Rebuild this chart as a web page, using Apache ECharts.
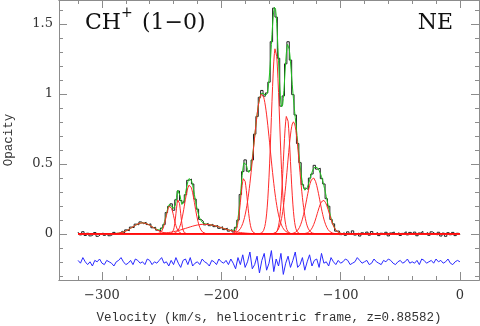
<!DOCTYPE html>
<html>
<head>
<meta charset="utf-8">
<script src="https://cdn.jsdelivr.net/npm/echarts@6/dist/echarts.min.js"></script>
<style>
html, body { margin: 0; padding: 0; background: #fff; }
#chart { width: 480px; height: 326px; }
</style>
</head>
<body>
<div id="chart"></div>
<script>
// observed opacity, one channel every 2 km/s starting at -320 km/s
const velStart = -320
const velStep = 2
const opacity = [
  0.012, -0.008, 0.015, -0.012, 0.004, -0.015, -0.006, 0.009, -0.018, -0.004,
  0.006, -0.011, 0.003, -0.014, -0.006, 0.010, -0.005, 0.004, 0.018, 0.006,
  0.028, 0.022, 0.048, 0.044, 0.069, 0.064, 0.085, 0.072, 0.083, 0.066,
  0.071, 0.043, 0.047, 0.026, 0.018, 0.041, 0.066, 0.152, 0.196, 0.214,
  0.168, 0.243, 0.306, 0.238, 0.221, 0.279, 0.382, 0.391, 0.356, 0.248,
  0.176, 0.103, 0.089, 0.064, 0.075, 0.058, 0.069, 0.051, 0.060, 0.039,
  0.051, 0.030, 0.041, 0.019, 0.030, 0.013, 0.046, 0.098, 0.281, 0.444,
  0.528, 0.447, 0.458, 0.527, 0.712, 0.838, 0.975, 1.024, 0.983, 1.006,
  1.083, 1.372, 1.612, 1.548, 1.254, 0.912, 0.985, 1.214, 1.372, 1.241,
  0.994, 0.849, 0.645, 0.508, 0.351, 0.326, 0.317, 0.398, 0.427, 0.489,
  0.462, 0.468, 0.394, 0.356, 0.251, 0.197, 0.102, 0.071, 0.019, 0.020,
  -0.006, 0.008, -0.011, 0.014, -0.004, 0.021, -0.009, 0.005, -0.016, 0.007,
  -0.003, 0.012, -0.010, 0.016, -0.002, 0.009, -0.013, 0.004, -0.007, 0.011,
  -0.015, 0.006, 0.013, -0.005, 0.008, -0.012, 0.003, 0.015, -0.008, 0.010,
  -0.004, 0.012, -0.014, 0.006, 0.017, -0.003, 0.009, -0.011, 0.014, 0.002,
  -0.009, 0.011, -0.016, 0.005, -0.018, 0.008, -0.007, 0.010, -0.013, 0.004,
  -0.006
]
// fit residuals, plotted shifted down to -0.2
const residual = [
  -0.19, -0.21, -0.17, -0.20, -0.22, -0.20, -0.23, -0.19, -0.20, -0.18,
  -0.21, -0.22, -0.19, -0.20, -0.21, -0.23, -0.20, -0.19, -0.17, -0.20,
  -0.22, -0.21, -0.19, -0.22, -0.18, -0.19, -0.21, -0.20, -0.22, -0.18,
  -0.19, -0.22, -0.20, -0.21, -0.19, -0.17, -0.21, -0.20, -0.23, -0.19,
  -0.22, -0.17, -0.21, -0.24, -0.19, -0.18, -0.22, -0.17, -0.23, -0.21,
  -0.20, -0.22, -0.18, -0.20, -0.21, -0.23, -0.19, -0.20, -0.22, -0.18,
  -0.20, -0.21, -0.19, -0.22, -0.18, -0.21, -0.25, -0.17, -0.22, -0.15,
  -0.24, -0.20, -0.13, -0.25, -0.22, -0.16, -0.28, -0.19, -0.14, -0.26,
  -0.21, -0.12, -0.27, -0.18, -0.23, -0.14, -0.29, -0.21, -0.16, -0.24,
  -0.19, -0.13, -0.24, -0.22, -0.17, -0.26, -0.20, -0.15, -0.23, -0.19,
  -0.18, -0.24, -0.14, -0.21, -0.20, -0.23, -0.17, -0.20, -0.22, -0.19,
  -0.21, -0.20, -0.18, -0.19, -0.22, -0.21, -0.20, -0.17, -0.19, -0.21,
  -0.20, -0.19, -0.22, -0.21, -0.18, -0.20, -0.21, -0.22, -0.19, -0.20,
  -0.18, -0.19, -0.21, -0.22, -0.20, -0.19, -0.21, -0.20, -0.18, -0.21,
  -0.20, -0.21, -0.19, -0.22, -0.18, -0.19, -0.21, -0.20, -0.19, -0.21,
  -0.18, -0.20, -0.19, -0.21, -0.20, -0.18, -0.21, -0.22, -0.20, -0.19,
  -0.20
]
// gaussian components of the fit (km/s, opacity, km/s)
const compCenter = [-266, -243, -236, -226.5, -214, -181, -166, -154.6, -145, -139.5, -123, -114.5]
const compPeak = [0.078, 0.20, 0.25, 0.35, 0.068, 0.40, 1.00, 1.33, 0.85, 0.80, 0.40, 0.24]
const compSigma = [8.5, 3.2, 1.9, 4.2, 15, 2.8, 7, 3.5, 3, 5, 5.5, 5]

const xMajor = [-300, -200, -100, 0]
const xMinor = [-320, -280, -260, -240, -220, -180, -160, -140, -120, -80, -60, -40, -20]
const yMajor = [0, 0.5, 1, 1.5]
const yMinor = [-0.3, -0.2, -0.1, 0.1, 0.2, 0.3, 0.4, 0.6, 0.7, 0.8, 0.9, 1.1, 1.2, 1.3, 1.4, 1.6]

const frameColor = '#8c8c8c'
const labelFont = 'DejaVu Serif'
const monoFont = 'Liberation Mono'

const chart = echarts.init(document.getElementById('chart'))

function xAxisOf (position, ticks, len, withLabels) {
  return {
    type: 'value',
    position: position,
    min: -336,
    max: 16,
    axisLine: { show: true, onZero: false, lineStyle: { color: frameColor, width: 1 } },
    axisTick: { show: true, inside: true, length: len, customValues: ticks, lineStyle: { color: frameColor, width: 1 } },
    axisLabel: withLabels
      ? {
          show: true,
          customValues: ticks,
          margin: 9,
          fontFamily: labelFont,
          fontSize: 13,
          color: '#333',
          formatter: (v) => String(v).replace('-', '\u2212')
        }
      : { show: false },
    splitLine: { show: false }
  }
}

function yAxisOf (position, ticks, len, withLabels) {
  return {
    type: 'value',
    position: position,
    min: -0.33,
    max: 1.67,
    axisLine: { show: true, onZero: false, lineStyle: { color: frameColor, width: 1 } },
    axisTick: { show: true, inside: true, length: len, customValues: ticks, lineStyle: { color: frameColor, width: 1 } },
    axisLabel: withLabels
      ? {
          show: true,
          customValues: ticks,
          margin: 6,
          fontFamily: labelFont,
          fontSize: 13,
          color: '#333'
        }
      : { show: false },
    splitLine: { show: false }
  }
}

const xAxes = [
  xAxisOf('bottom', xMajor, 8, true),
  xAxisOf('bottom', xMinor, 4, false),
  xAxisOf('top', xMajor, 8, false),
  xAxisOf('top', xMinor, 4, false)
]
xAxes[0].name = 'Velocity (km/s, heliocentric frame, z=0.88582)'
xAxes[0].nameLocation = 'middle'
xAxes[0].nameGap = 31
xAxes[0].nameMoveOverlap = false
xAxes[0].nameTextStyle = { fontFamily: monoFont, fontSize: 12.5, color: '#333' }

const yAxes = [
  yAxisOf('left', yMajor, 8, true),
  yAxisOf('left', yMinor, 4, false),
  yAxisOf('right', yMajor, 8, false),
  yAxisOf('right', yMinor, 4, false)
]
yAxes[0].name = 'Opacity'
yAxes[0].nameLocation = 'middle'
yAxes[0].nameGap = 44
yAxes[0].nameMoveOverlap = false
yAxes[0].nameTextStyle = { fontFamily: monoFont, fontSize: 12.5, color: '#333' }

// fine velocity grid for the model curves
const fineVel = []
for (let v = velStart; v <= 0; v += 0.5) fineVel.push(v)

function gauss (k, v) {
  const d = v - compCenter[k]
  return compPeak[k] * Math.exp(-d * d / (2 * compSigma[k] * compSigma[k]))
}

const lineBase = { type: 'line', showSymbol: false, symbol: 'none', silent: true, animation: false, xAxisIndex: 0, yAxisIndex: 0 }

const series = []
series.push(Object.assign({}, lineBase, {
  name: 'data',
  step: 'middle',
  data: opacity.map((y, i) => [velStart + i * velStep, y]),
  lineStyle: { color: '#222', width: 1 }
}))
series.push(Object.assign({}, lineBase, {
  name: 'fit',
  data: fineVel.map((v) => [v, compCenter.reduce((s, c, k) => s + gauss(k, v), 0)]),
  lineStyle: { color: '#1ec41e', width: 1 }
}))
compCenter.forEach((c, k) => {
  series.push(Object.assign({}, lineBase, {
    name: 'comp' + k,
    data: fineVel.map((v) => [v, gauss(k, v)]),
    lineStyle: { color: '#ff2a2a', width: 1 }
  }))
})
series.push(Object.assign({}, lineBase, {
  name: 'baseline',
  data: [[velStart, 0], [0, 0]],
  lineStyle: { color: '#ff0000', width: 1 }
}))
series.push(Object.assign({}, lineBase, {
  name: 'residual',
  data: residual.map((y, i) => [velStart + i * velStep, y]),
  lineStyle: { color: '#2a2aff', width: 1 }
}))

const option = {
  backgroundColor: '#fff',
  animation: false,
  grid: { left: 59, right: 1, top: 0, bottom: 46, containLabel: false, outerBoundsMode: 'none' },
  xAxis: xAxes,
  yAxis: yAxes,
  series: series,
  graphic: [
    { type: 'text', left: 85, top: 12, style: { text: 'CH', font: '22px "DejaVu Serif"', fill: '#111' } },
    { type: 'text', left: 121, top: 6, style: { text: '+', font: '14px "DejaVu Serif"', fill: '#111' } },
    { type: 'text', left: 142, top: 12, style: { text: '(1\u22120)', font: '22px "DejaVu Serif"', fill: '#111' } },
    { type: 'text', right: 27, top: 12, style: { text: 'NE', font: '22px "DejaVu Serif"', fill: '#111' } }
  ]
}
chart.setOption(option)
</script>
</body>
</html>
